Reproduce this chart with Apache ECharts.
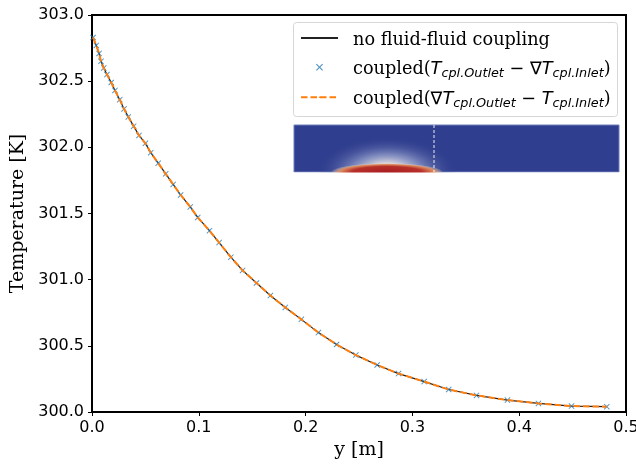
<!DOCTYPE html>
<html>
<head>
<meta charset="utf-8">
<script src="https://cdn.jsdelivr.net/npm/echarts@6/dist/echarts.min.js"></script>
<style>html,body{margin:0;padding:0;background:#fff;}#c{width:636px;height:464px;}</style>
</head>
<body>
<div id="c"></div>
<script>
// ---- data ----
const yPos = [0.001,0.004,0.0066,0.0084,0.011,0.014,0.018,0.0215,0.026,0.030,0.034,0.039,0.044,0.050,0.055,0.062,0.069,0.076,0.083,0.092,0.099,0.110,0.119,0.130,0.141,0.154,0.167,0.181,0.196,0.212,0.229,0.247,0.267,0.287,0.311,0.334,0.360,0.389,0.418,0.449,0.482];
const tempNoCoupling = [302.83,302.77,302.71,302.65,302.60,302.55,302.49,302.43,302.36,302.29,302.23,302.16,302.09,302.03,301.96,301.88,301.80,301.72,301.64,301.55,301.47,301.37,301.28,301.17,301.07,300.975,300.88,300.79,300.70,300.60,300.51,300.43,300.355,300.29,300.23,300.17,300.125,300.09,300.065,300.045,300.04];
const tempCoupledA = tempNoCoupling.slice();
const tempCoupledB = tempNoCoupling.slice();
const xTicks = [0, 0.5, 0.1];
const yTicks = [300, 303, 0.5];
const seriesNames = ['no fluid-fluid coupling', 'coupledA', 'coupledB'];

const pairs = arr => yPos.map((x, i) => [x, arr[i]]);
const X_PATH = 'path://M0,1.1L1.1,0L5,3.9L8.9,0L10,1.1L6.1,5L10,8.9L8.9,10L5,6.1L1.1,10L0,8.9L3.9,5Z';

const rich = {
  s: {fontFamily: 'DejaVu Serif', fontSize: 17.7, color: '#000', lineHeight: 22},
  m: {fontFamily: 'DejaVu Sans', fontSize: 17.7, fontStyle: 'italic', color: '#000', lineHeight: 22},
  n: {fontFamily: 'DejaVu Sans', fontSize: 17.7, color: '#000', lineHeight: 22},
  b: {fontFamily: 'DejaVu Sans', fontSize: 12.8, fontStyle: 'italic', color: '#000', lineHeight: 14, verticalAlign: 'bottom'}
};
const labels = {
  'no fluid-fluid coupling': '{s|no fluid-fluid coupling}',
  'coupledA': '{s|coupled(}{m|T}{b|cpl.Outlet}{n| − ∇}{m|T}{b|cpl.Inlet}{s|)}',
  'coupledB': '{s|coupled(}{n|∇}{m|T}{b|cpl.Outlet}{n| − }{m|T}{b|cpl.Inlet}{s|)}'
};
function mkLegend(name, top, left, w, h) {
  return {
    data: [name], left: left, top: top, orient: 'vertical', padding: 0,
    itemWidth: w, itemHeight: h, itemGap: 0, selectedMode: false,
    formatter: () => '', textStyle: {fontSize: 1, lineHeight: 1}
  };
}
const legendText = (name, y) => ({type: 'text', z: 20, x: 353, y: y,
  style: {text: labels[name], rich: rich, align: 'left', verticalAlign: 'middle'}});

const chart = echarts.init(document.getElementById('c'), null, {renderer: 'canvas'});
chart.setOption({
  animation: false,
  backgroundColor: '#fff',
  grid: {left: 92, right: 10, top: 15, bottom: 52, outerBoundsMode: 'none', containLabel: false,
         show: true, borderColor: '#000', borderWidth: 2, backgroundColor: 'transparent'},
  xAxis: {
    type: 'value', min: xTicks[0], max: xTicks[1], interval: xTicks[2],
    name: 'y [m]', nameLocation: 'middle', nameGap: 28,
    nameTextStyle: {fontFamily: 'DejaVu Serif', fontSize: 19, color: '#000'},
    axisLine: {lineStyle: {color: '#000', width: 2}},
    axisTick: {length: 4, lineStyle: {color: '#000', width: 1}},
    axisLabel: {formatter: v => v.toFixed(1), fontFamily: 'DejaVu Sans', fontSize: 16, color: '#000', margin: 8, hideOverlap: false},
    splitLine: {show: false}
  },
  yAxis: {
    type: 'value', min: yTicks[0], max: yTicks[1], interval: yTicks[2],
    name: 'Temperature [K]', nameLocation: 'middle', nameGap: 60,
    nameTextStyle: {fontFamily: 'DejaVu Serif', fontSize: 19, color: '#000'},
    axisLine: {show: true, lineStyle: {color: '#000', width: 2}},
    axisTick: {show: true, length: 4, lineStyle: {color: '#000', width: 1}},
    axisLabel: {formatter: v => v.toFixed(1), fontFamily: 'DejaVu Sans', fontSize: 16, color: '#000', margin: 8},
    splitLine: {show: false}
  },
  legend: [
    mkLegend(seriesNames[0], 36.9, 300, 37, 2),
    mkLegend(seriesNames[1], 63.8, 316, 7, 7),
    mkLegend(seriesNames[2], 96.3, 300, 37, 2)
  ],
  series: [
    {name: seriesNames[0], type: 'line', data: pairs(tempNoCoupling), symbol: 'none', z: 2,
     lineStyle: {color: '#222', width: 1.2}, itemStyle: {color: '#222'}},
    {name: seriesNames[1], type: 'scatter', data: pairs(tempCoupledA), symbol: X_PATH, symbolSize: 6, z: 3,
     itemStyle: {color: '#1f77b4'}},
    {name: seriesNames[2], type: 'line', data: pairs(tempCoupledB), symbol: 'none', z: 4,
     lineStyle: {color: '#ff7f0e', width: 2, type: [6.5, 3]}, itemStyle: {color: '#ff7f0e'}}
  ],
  graphic: [
    {type: 'rect', z: 1, shape: {x: 293.5, y: 22.5, width: 324, height: 94, r: 3},
     style: {fill: 'rgba(255,255,255,0.85)', stroke: '#d6d6d6', lineWidth: 1}},
    legendText(seriesNames[0], 40),
    legendText(seriesNames[1], 69),
    legendText(seriesNames[2], 99),
    // inset picture
    {type: 'rect', z: 10, shape: {x: 294, y: 125, width: 325, height: 47},
     style: {fill: '#303e8f', stroke: '#6f7fba', lineWidth: 1}},
    {type: 'circle', z: 11, x: 387, y: 172, scaleX: 1, scaleY: 0.5, shape: {cx: 0, cy: 0, r: 70},
     style: {fill: new echarts.graphic.RadialGradient(0.5, 0.5, 0.5, [
       {offset: 0, color: 'rgba(245,236,220,1)'},
       {offset: 0.25, color: 'rgba(232,228,228,0.92)'},
       {offset: 0.5, color: 'rgba(165,176,214,0.65)'},
       {offset: 1, color: 'rgba(48,62,143,0)'}])}},
    {type: 'circle', z: 12, x: 387, y: 172, scaleX: 1, scaleY: 0.16, shape: {cx: 0, cy: 0, r: 56},
     style: {fill: new echarts.graphic.RadialGradient(0.5, 0.5, 0.5, [
       {offset: 0, color: '#a81e22'},
       {offset: 0.62, color: '#b8302a'},
       {offset: 0.84, color: '#dc8a5e'},
       {offset: 1, color: 'rgba(240,225,200,0)'}])}},
    {type: 'rect', z: 13, shape: {x: 280, y: 172.5, width: 345, height: 70}, style: {fill: '#fff'}},
    {type: 'line', z: 14, shape: {x1: 434, y1: 125, x2: 434, y2: 172},
     style: {stroke: 'rgba(255,255,255,0.9)', lineWidth: 1, lineDash: [3, 2]}}
  ]
});
</script>
</body>
</html>
